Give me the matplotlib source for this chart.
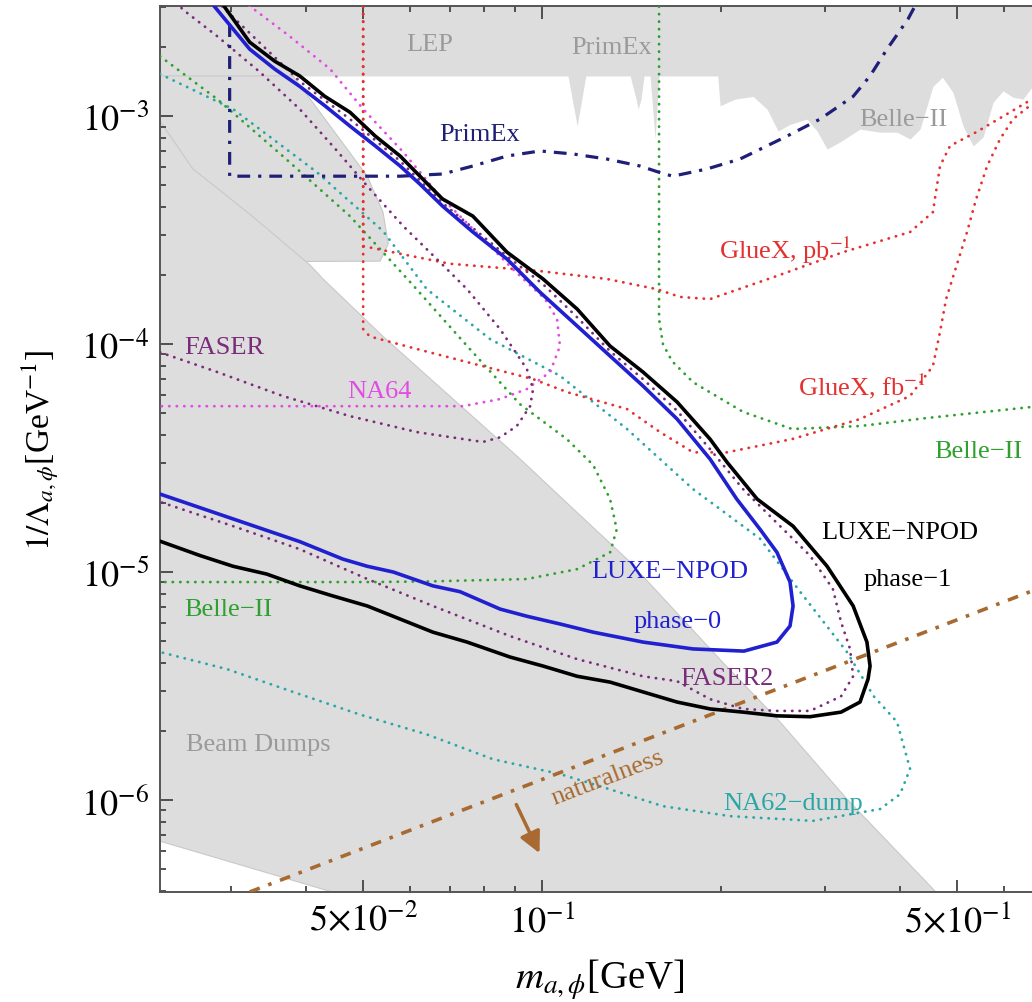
import matplotlib
matplotlib.use('Agg')
import matplotlib.pyplot as plt
from matplotlib.ticker import FixedLocator, FixedFormatter, NullFormatter

plt.rcParams['font.family'] = 'serif'
plt.rcParams['font.serif'] = ['Liberation Serif', 'DejaVu Serif']
plt.rcParams['mathtext.fontset'] = 'stix'

# ---- data (mass in GeV, coupling in 1/GeV) ----
# lower edge of the grey band at the top (LEP, PrimEx, Belle-II)
top_edge_m = [0.02275, 0.1106, 0.1128, 0.1146, 0.1163, 0.1185, 0.1407, 0.1440, 0.1451, 0.1468,
              0.1485, 0.1520, 0.1550, 0.1574, 0.1976, 0.1994, 0.2113, 0.2266, 0.2392, 0.2497,
              0.2615, 0.2793, 0.2904, 0.3019, 0.3174, 0.3430, 0.3707, 0.3959, 0.4164, 0.4329,
              0.4549, 0.4720, 0.4918, 0.5113, 0.5319, 0.5527, 0.5745, 0.5970, 0.6206, 0.6450, 0.668]
top_edge_y = [1.5e-3, 1.5e-3, 1.13e-3, 9.04e-4, 1.13e-3, 1.5e-3, 1.5e-3, 1.187e-3, 1.073e-3, 1.187e-3,
              1.5e-3, 1.5e-3, 7.93e-4, 1.5e-3, 1.5e-3, 1.11e-3, 1.187e-3, 1.22e-3, 1.073e-3, 8.6e-4,
              9.2e-4, 9.7e-4, 8.6e-4, 7.17e-4, 7.7e-4, 8.77e-4, 8.5e-4, 8.5e-4, 7.93e-4, 8.77e-4,
              1.35e-3, 1.48e-3, 1.27e-3, 9.04e-4, 7.4e-4, 8.1e-4, 1.15e-3, 1.29e-3, 1.21e-3, 1.187e-3, 1.34e-3]

# grey block at the upper left
ul_m = [0.02275, 0.0381, 0.0440, 0.0508, 0.0540, 0.0551, 0.0534, 0.02275]
ul_y = [1.5e-3, 1.5e-3, 9.04e-4, 5.45e-4, 3.79e-4, 2.75e-4, 2.31e-4, 2.29e-4]

# beam dumps
bd_m = [0.02275, 0.02585, 0.0322, 0.0407, 0.0428, 0.0540, 0.0700, 0.0907, 0.1115, 0.1390,
        0.2012, 0.2516, 0.3260, 0.4624, 0.0451, 0.02275]
bd_y = [9.5e-4, 5.86e-4, 3.72e-4, 2.22e-4, 1.93e-4, 1.08e-4, 5.9e-5, 3.23e-5, 1.95e-5, 1.14e-5,
        4.03e-6, 2.2e-6, 1.01e-6, 3.9e-7, 3.9e-7, 6.6e-7]

# LUXE-NPOD phase-1
black_m = [0.0285, 0.0322, 0.0355, 0.0391, 0.0431, 0.0475, 0.0524, 0.0577, 0.0623, 0.0680,
           0.0765, 0.0873, 0.1004, 0.1146, 0.1302, 0.1479, 0.1688, 0.1918, 0.2047, 0.2302,
           0.2646, 0.3019, 0.3340, 0.3523, 0.3566, 0.3538, 0.3430, 0.3187, 0.2826, 0.2487,
           0.2180, 0.1918, 0.1688, 0.1479, 0.1302, 0.1146, 0.1004, 0.0883, 0.0748, 0.0655,
           0.0577, 0.0508, 0.0445, 0.0391, 0.0344, 0.0302, 0.0266, 0.0225]
black_y = [3.3e-3, 2.11e-3, 1.74e-3, 1.5e-3, 1.22e-3, 1.04e-3, 8.17e-4, 6.68e-4, 5.45e-4, 4.33e-4,
           3.64e-4, 2.53e-4, 1.93e-4, 1.424e-4, 9.8e-5, 7.54e-5, 5.57e-5, 3.83e-5, 3.04e-5, 2.09e-5,
           1.59e-5, 1.06e-5, 7.1e-6, 4.93e-6, 3.87e-6, 3.39e-6, 2.69e-6, 2.43e-6, 2.32e-6, 2.34e-6,
           2.43e-6, 2.51e-6, 2.69e-6, 2.98e-6, 3.29e-6, 3.49e-6, 3.87e-6, 4.24e-6, 4.93e-6, 5.45e-6,
           6.22e-6, 7.1e-6, 7.85e-6, 8.7e-6, 9.8e-6, 1.06e-5, 1.18e-5, 1.38e-5]

# LUXE-NPOD phase-0
blue_m = [0.0276, 0.0322, 0.0355, 0.0391, 0.0431, 0.0475, 0.0524, 0.0577, 0.0623, 0.0680,
          0.0765, 0.0873, 0.0992, 0.1146, 0.1302, 0.1479, 0.1688, 0.1918, 0.2127, 0.2328,
          0.2486, 0.2615, 0.2646, 0.2615, 0.2486, 0.2187, 0.1796, 0.1479, 0.1219, 0.1072,
          0.0943, 0.0850, 0.0728, 0.0655, 0.0562, 0.0508, 0.0462, 0.0391, 0.0302, 0.0225]
blue_y = [3.2e-3, 1.967e-3, 1.607e-3, 1.35e-3, 1.11e-3, 9.04e-4, 7.4e-4, 6.04e-4, 5.03e-4, 4.03e-4,
          3.10e-4, 2.36e-4, 1.69e-4, 1.20e-4, 8.86e-5, 6.55e-5, 4.69e-5, 3.13e-5, 2.09e-5, 1.54e-5,
          1.22e-5, 9.04e-6, 7.1e-6, 5.8e-6, 4.93e-6, 4.5e-6, 4.6e-6, 4.93e-6, 5.45e-6, 5.92e-6,
          6.4e-6, 6.88e-6, 8.2e-6, 8.7e-6, 1.0e-5, 1.06e-5, 1.14e-5, 1.36e-5, 1.71e-5, 2.22e-5]

# FASER2
faser2_m = [0.0283, 0.0391, 0.0475, 0.0577, 0.0680, 0.0873, 0.1004, 0.1146, 0.1302, 0.1479,
            0.1688, 0.1918, 0.2180, 0.2486, 0.2826, 0.3088, 0.3187, 0.3300, 0.3340, 0.3187,
            0.2826, 0.2486, 0.2180, 0.1918, 0.1688, 0.1479, 0.1146, 0.0883, 0.0655, 0.0508,
            0.0391, 0.0302, 0.02275]
faser2_y = [3.2e-3, 1.42e-3, 9.7e-4, 6.35e-4, 4.16e-4, 2.43e-4, 1.83e-4, 1.31e-4, 9.3e-5, 7.02e-5,
            5.1e-5, 3.46e-5, 2.31e-5, 1.64e-5, 1.18e-5, 8.42e-6, 6.03e-6, 4.6e-6, 3.49e-6, 2.85e-6,
            2.46e-6, 2.46e-6, 2.51e-6, 2.77e-6, 3.32e-6, 3.49e-6, 4.15e-6, 5.24e-6, 7.1e-6, 9.32e-6,
            1.26e-5, 1.59e-5, 2.03e-5]

# FASER
faser_m = [0.02275, 0.0284, 0.0366, 0.0475, 0.0616, 0.0795, 0.0850, 0.0907, 0.0955, 0.0966,
           0.0943, 0.0850, 0.0748, 0.0673, 0.0584, 0.0508, 0.0449, 0.0391, 0.0335, 0.0284,
           0.0248, 0.0241]
faser_y = [9.2e-5, 7.54e-5, 5.92e-5, 4.83e-5, 4.11e-5, 3.72e-5, 3.9e-5, 4.37e-5, 5.34e-5, 6.35e-5,
           7.77e-5, 1.163e-4, 1.74e-4, 2.29e-4, 3.29e-4, 4.93e-4, 7.17e-4, 1.073e-3, 1.56e-3, 2.24e-3,
           2.946e-3, 3.3e-3]

# NA64
na64_m = [0.0316, 0.0322, 0.0376, 0.0440, 0.0500, 0.0584, 0.0673, 0.0786, 0.0900, 0.1012,
          0.1060, 0.1072, 0.1032, 0.0943, 0.0850, 0.0736, 0.02275]
na64_y = [3.3e-3, 3.04e-3, 2.24e-3, 1.607e-3, 1.073e-3, 6.95e-4, 4.46e-4, 2.98e-4, 2.09e-4, 1.575e-4,
          1.287e-4, 9.8e-5, 7.54e-5, 6.35e-5, 5.74e-5, 5.34e-5, 5.34e-5]

# Belle-II (upper region)
belle_hi_m = [0.1574, 0.1574, 0.1598, 0.1655, 0.1796, 0.2180, 0.2636, 0.3430, 0.4448, 0.668]
belle_hi_y = [3.3e-3, 1.287e-4, 1.0e-4, 8.42e-5, 6.8e-5, 5.04e-5, 4.24e-5, 4.37e-5, 4.74e-5, 5.3e-5]

# Belle-II (lower region)
belle_lo_m = [0.02275, 0.0284, 0.0366, 0.0475, 0.0600, 0.0756, 0.0918, 0.1101, 0.1219, 0.1302,
              0.1336, 0.1302, 0.1146, 0.0943, 0.0648, 0.0520, 0.02275]
belle_lo_y = [1.83e-3, 1.187e-3, 6.68e-4, 3.64e-4, 1.87e-4, 9.51e-5, 5.45e-5, 3.83e-5, 2.95e-5, 2.09e-5,
              1.54e-5, 1.22e-5, 1.03e-5, 9.32e-6, 9.1e-6, 9.04e-6, 9.04e-6]

# NA62-dump
na62_m = [0.02275, 0.0302, 0.0418, 0.0540, 0.0640, 0.0818, 0.1072, 0.1390, 0.1796, 0.2328,
          0.2719, 0.3260, 0.3614, 0.3959, 0.4164, 0.4006, 0.3707, 0.2857, 0.2073, 0.1598,
          0.1252, 0.1072, 0.0827, 0.0640, 0.0494, 0.0381, 0.0295, 0.02275]
na62_y = [1.53e-3, 1.073e-3, 5.67e-4, 3.13e-4, 1.74e-4, 1.051e-4, 7.26e-5, 4.24e-5, 2.31e-5, 1.40e-5,
          8.2e-6, 4.46e-6, 2.86e-6, 2.2e-6, 1.37e-6, 1.06e-6, 9.13e-7, 8.1e-7, 8.5e-7, 9.4e-7,
          1.15e-6, 1.30e-6, 1.51e-6, 1.94e-6, 2.37e-6, 2.98e-6, 3.75e-6, 4.46e-6]

# GlueX
gluex_pb_m = [0.05, 0.05, 0.0577, 0.0700, 0.0992, 0.1286, 0.1562, 0.1707, 0.1918, 0.2486,
              0.3211, 0.4164, 0.4549, 0.4677, 0.4862, 0.5380, 0.6136, 0.668]
gluex_pb_y = [3.3e-3, 2.69e-4, 2.49e-4, 2.25e-4, 2.09e-4, 1.93e-4, 1.74e-4, 1.61e-4, 1.575e-4, 1.99e-4,
              2.53e-4, 3.10e-4, 3.79e-4, 6.04e-4, 7.4e-4, 8.5e-4, 1.04e-3, 1.187e-3]
gluex_fb_m = [0.05, 0.05, 0.0513, 0.0616, 0.0795, 0.0966, 0.1103, 0.1390, 0.1580, 0.1796,
              0.2047, 0.2636, 0.3430, 0.4164, 0.4549, 0.4677, 0.4788, 0.4987, 0.5193, 0.5380,
              0.5614, 0.5902, 0.6206, 0.668]
gluex_fb_y = [3.3e-3, 1.163e-4, 1.08e-4, 9.51e-5, 8.0e-5, 7.02e-5, 6.15e-5, 5.19e-5, 4.11e-5, 3.35e-5,
              3.35e-5, 3.83e-5, 4.69e-5, 5.92e-5, 8.0e-5, 1.13e-4, 1.575e-4, 2.21e-4, 3.10e-4, 4.33e-4,
              6.04e-4, 7.93e-4, 9.70e-4, 1.13e-3]

# PrimEx projection
primex_m = [0.0298, 0.0298, 0.0391, 0.0577, 0.0680, 0.0765, 0.0873, 0.0992, 0.1128, 0.1286,
            0.1462, 0.1580, 0.1660, 0.1894, 0.2154, 0.2585, 0.2938, 0.3340, 0.3566, 0.3809,
            0.4131, 0.4262]
primex_y = [2.53e-3, 5.45e-4, 5.45e-4, 5.45e-4, 5.57e-4, 6.04e-4, 6.68e-4, 7.03e-4, 6.82e-4, 6.48e-4,
            6.04e-4, 5.65e-4, 5.45e-4, 5.86e-4, 6.48e-4, 8.17e-4, 9.7e-4, 1.22e-3, 1.5e-3, 1.967e-3,
            2.663e-3, 3.1e-3]

# naturalness line and arrow
nat_m = [0.0322, 0.668]
nat_y = [3.95e-7, 8.26e-6]
arrow_m = [0.0901, 0.0995]
arrow_y = [9.8e-7, 5.7e-7]

# tick values / labels
xmajor = [0.05, 0.1, 0.5]
xmajor_labels = [r'$5{\times}10^{-2}$', r'$10^{-1}$', r'$5{\times}10^{-1}$']
xminor = [0.03, 0.04, 0.06, 0.07, 0.08, 0.09, 0.2, 0.3, 0.4, 0.6]
ymajor = [1e-6, 1e-5, 1e-4, 1e-3]
ymajor_labels = [r'$10^{-6}$', r'$10^{-5}$', r'$10^{-4}$', r'$10^{-3}$']
yminor = [k * 10.0 ** e for e in (-7, -6, -5, -4, -3) for k in range(2, 10)]

# ---- colours ----
grey = '#dddddd'
grey_edge = '#c9c9c9'
grey_txt = '#9a9a9a'
blue = '#2020d0'
navy = '#1f1f78'
red = '#e53030'
green = '#2fa02f'
teal = '#2aa6a6'
purple = '#7a2b7a'
magenta = '#e24ce2'
brown = '#a86a30'

fig = plt.figure(figsize=(10.32, 10.03), dpi=100)
ax = fig.add_axes([160 / 1032, 110 / 1003, 872 / 1032, 886 / 1003])
ax.set_xscale('log')
ax.set_yscale('log')

# grey excluded regions
ax.fill_between(top_edge_m, top_edge_y, 1.0, color=grey, lw=0, zorder=1)
ax.fill(ul_m, ul_y, facecolor=grey, edgecolor=grey_edge, lw=0.8, zorder=1)
ax.fill(bd_m, bd_y, facecolor=grey, edgecolor=grey_edge, lw=0.8, zorder=1)

dot = (0, (0.1, 2.6))
dkw = dict(lw=2.0, linestyle=dot, dash_capstyle='round', zorder=3)
ax.plot(na62_m, na62_y, color=teal, **dkw)
ax.plot(belle_lo_m, belle_lo_y, color=green, **dkw)
ax.plot(belle_hi_m, belle_hi_y, color=green, **dkw)
ax.plot(gluex_pb_m, gluex_pb_y, color=red, **dkw)
ax.plot(gluex_fb_m, gluex_fb_y, color=red, **dkw)
ax.plot(na64_m, na64_y, color=magenta, **dkw)
ax.plot(faser_m, faser_y, color=purple, **dkw)
ax.plot(faser2_m, faser2_y, color=purple, **dkw)

ax.plot(primex_m, primex_y, color=navy, lw=2.3, linestyle=(0, (4, 2.5, 1, 2.5)), zorder=4)
ax.plot(nat_m, nat_y, color=brown, lw=2.6, linestyle=(0, (3, 2.5, 1, 2.5)), zorder=4)
ax.annotate('', xy=(arrow_m[1], arrow_y[1]), xytext=(arrow_m[0], arrow_y[0]),
            arrowprops=dict(arrowstyle='-|>', color=brown, lw=2.5, mutation_scale=32), zorder=5)

ax.plot(blue_m, blue_y, color=blue, lw=2.6, zorder=5)
ax.plot(black_m, black_y, color='black', lw=2.6, zorder=6)

# labels inside the plot
fs = 19
ax.text(0.0648, 2.07e-3, 'LEP', color=grey_txt, fontsize=fs, ha='center', va='center', zorder=7)
ax.text(0.1312, 2.0e-3, 'PrimEx', color=grey_txt, fontsize=fs, ha='center', va='center', zorder=7)
ax.text(0.405, 9.7e-4, 'Belle\u2212II', color=grey_txt, fontsize=fs, ha='center', va='center', zorder=7)
ax.text(0.0786, 8.36e-4, 'PrimEx', color=navy, fontsize=fs, ha='center', va='center', zorder=7)
ax.text(0.2565, 2.6e-4, r'GlueX, pb$^{-1}$', color=red, fontsize=fs, ha='center', va='center', zorder=7)
ax.text(0.3458, 6.6e-5, r'GlueX, fb$^{-1}$', color=red, fontsize=fs, ha='center', va='center', zorder=7)
ax.text(0.5418, 3.4e-5, 'Belle\u2212II', color=green, fontsize=fs, ha='center', va='center', zorder=7)
ax.text(0.0292, 9.7e-5, 'FASER', color=purple, fontsize=fs, ha='center', va='center', zorder=7)
ax.text(0.0532, 6.22e-5, 'NA64', color=magenta, fontsize=fs, ha='center', va='center', zorder=7)
ax.text(0.4006, 1.5e-5, 'LUXE\u2212NPOD', color='black', fontsize=fs, ha='center', va='center', zorder=7)
ax.text(0.4122, 9.3e-6, 'phase\u22121', color='black', fontsize=fs, ha='center', va='center', zorder=7)
ax.text(0.1642, 1.01e-5, 'LUXE\u2212NPOD', color=blue, fontsize=fs, ha='center', va='center', zorder=7)
ax.text(0.1694, 6.1e-6, 'phase\u22120', color=blue, fontsize=fs, ha='center', va='center', zorder=7)
ax.text(0.2047, 3.43e-6, 'FASER2', color=purple, fontsize=fs, ha='center', va='center', zorder=7)
ax.text(0.0333, 1.76e-6, 'Beam Dumps', color=grey_txt, fontsize=fs, ha='center', va='center', zorder=7)
ax.text(0.2646, 9.7e-7, 'NA62\u2212dump', color=teal, fontsize=fs, ha='center', va='center', zorder=7)
ax.text(0.0296, 6.88e-6, 'Belle\u2212II', color=green, fontsize=fs, ha='center', va='center', zorder=7)
ax.text(0.1291, 1.26e-6, 'naturalness', color=brown, fontsize=fs, ha='center', va='center',
        rotation=21, zorder=7)

ax.set_xlim(0.02275, 0.668)
ax.set_ylim(3.95e-7, 3.04e-3)

ax.xaxis.set_major_locator(FixedLocator(xmajor))
ax.xaxis.set_major_formatter(FixedFormatter(xmajor_labels))
ax.xaxis.set_minor_locator(FixedLocator(xminor))
ax.xaxis.set_minor_formatter(NullFormatter())
ax.yaxis.set_major_locator(FixedLocator(ymajor))
ax.yaxis.set_major_formatter(FixedFormatter(ymajor_labels))
ax.yaxis.set_minor_locator(FixedLocator(yminor))
ax.yaxis.set_minor_formatter(NullFormatter())

ax.tick_params(which='both', direction='in', top=True, right=False, colors='#444444',
               labelcolor='black', labelsize=26, width=1.3)
ax.tick_params(which='major', length=9, pad=8)
ax.tick_params(which='minor', length=4.5)
for side in ('left', 'bottom', 'top'):
    ax.spines[side].set_color('#555555')
    ax.spines[side].set_linewidth(1.4)
ax.spines['right'].set_visible(False)

fig.text(600 / 1032, 1 - 980 / 1003, r'$m_{a,\phi}$[GeV]', fontsize=28, ha='center', va='center')
fig.text(40 / 1032, 1 - 450 / 1003, r'$1/\Lambda_{a,\phi}$[GeV$^{-1}$]', fontsize=24,
         ha='center', va='center', rotation=90)

fig.savefig('out.png', dpi=100)
